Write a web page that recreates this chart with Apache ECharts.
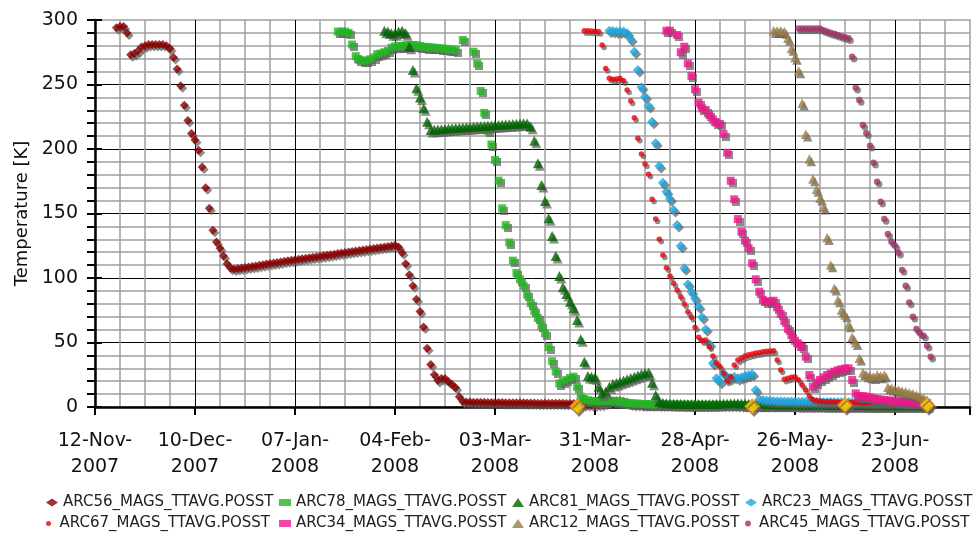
<!DOCTYPE html>
<html><head><meta charset="utf-8">
<script src="https://cdn.jsdelivr.net/npm/echarts@6/dist/echarts.min.js"></script>
<style>html,body{margin:0;padding:0;background:#fff}#c{width:973px;height:536px}</style>
</head><body><div id="c"></div>
<script>
// x values are days after 12-Nov-2007
const xTickLabels = ['12-Nov-\n2007','10-Dec-\n2007','07-Jan-\n2008','04-Feb-\n2008','03-Mar-\n2008','31-Mar-\n2008','28-Apr-\n2008','26-May-\n2008','23-Jun-\n2008'];
const seriesNames = ['ARC56_MAGS_TTAVG.POSST','ARC78_MAGS_TTAVG.POSST','ARC81_MAGS_TTAVG.POSST','ARC23_MAGS_TTAVG.POSST',
                     'ARC67_MAGS_TTAVG.POSST','ARC34_MAGS_TTAVG.POSST','ARC12_MAGS_TTAVG.POSST','ARC45_MAGS_TTAVG.POSST'];

const arc56Start = 6;
const arc56 = [294,295,295,290,273,274,276,279,280,281,281,281,281,281,280,278,271,262,249,234,222,212,207,199,186,170,154,137,128,123,117,111,107.5,
107,107.3,107.7,108.1,108.5,108.9,109.3,109.8,110.3,110.8,111.3,111.7,112.1,112.5,112.9,113.3,113.7,114.1,114.5,114.9,115.3,115.7,116.1,116.5,116.9,117.3,117.7,118.1,118.5,118.9,119.3,119.7,120.1,120.5,120.9,121.3,121.7,122.1,122.5,122.9,123.3,123.7,124.1,124.5,124.9,125.3,
124,119.5,111,102.5,94,83.5,74,62,45.5,33,25,20.5,22,22,19.5,17.5,15,8,4,
3.8,3.8,3.7,3.7,3.6,3.6,3.5,3.5,3.4,3.4,3.4,3.3,3.3,3.3,3.2,3.2,3.2,3.1,3.1,3.1,3.0,3.0,3.0,3.0,2.9,2.9,2.9,2.9,2.8,2.8,2.8,2.8,
2.2,2.0,1.9,1.8,1.8,1.9,2.2,3.0,4.0,4.6,4.8,4.8,4.5,3.6,2.6,
2.0,1.9,1.8,1.8,1.7,1.7,1.7,1.6,1.6,1.6,1.6,1.5,1.5,1.5,1.5,1.5,1.4,1.4,1.4,1.4,1.4,1.4,1.3,1.3,1.3,1.3,1.3,1.3,1.3,1.2,1.2,1.2,1.2,1.2,1.2,1.2,1.2,1.1,1.1,1.1,1.1,1.1,1.1,1.1,1.1,1.1,1.0,1.0,1.0,1.0,1.0,1.0,1.0,1.0,1.0,1.0,1.0,0.9,0.9,0.9,0.9,0.9,0.9,0.9,0.9,0.9,0.9,0.9,0.9,0.9,0.9,0.9,0.9,0.9,0.9,0.9,0.9,0.9,0.9,0.9,0.9,0.9,0.9];

const arc78Start = 68;
const arc78 = [291,291,291,290,281,272,269,268.5,268.5,269.5,271,273.5,274,275,276,278.5,279.5,279.8,279.8,280.5,280.6,280.6,280.5,279.8,279.3,279,278.8,278.5,278.3,278,277.7,277.4,277,276.7,
null,284.5,null,null,275.4,266.4,245,228,214,203.5,191.5,175.5,154,141,127.5,113.5,104,99,94,87,80.5,74.5,69,63,57,46.5,35.5,27.5,18.3,19.6,21,22.5,23.5,15.7,8,
6.0,5.2,4.8,4.6,4.5,4.5,4.6,4.7,4.8,4.6,4.2,3.6,3.2,3.0,
2.8,2.6,2.4,2.3,2.2,2.1,2.0,2.0,2.0,1.9,1.9,1.9,1.9,1.8,1.8,1.8,1.8,1.8,1.7,1.7,1.7,1.7,1.7,1.7,1.6,1.6,1.6,1.6,1.6,1.6,1.6,1.5,1.5,1.5,1.5,1.5,1.5,1.5,1.5,1.5,1.5,1.4,1.4,1.4,1.4,1.4,1.4,1.4,1.4,1.4,1.4,1.4,1.4,1.4,1.3,1.3,1.3,1.3,1.3,1.3,1.3,1.3,1.3,1.3,1.3,1.3,1.3,1.3,1.3,1.3,1.3,1.3,1.3,1.3,1.3,1.3,1.3,1.3,1.3,1.3,1.3,1.3,1.3];

const arc81Start = 81;
const arc81 = [291.7,291,289.7,289.7,291,291.7,289.7,279.3,261.2,247,240,231.5,221.2,214.7,
215,215.2,215.4,215.6,215.8,216,216.2,216.4,216.6,216.8,217,217.2,217.4,217.6,217.8,218,218.2,218.4,218.6,218.8,219,219.2,219.4,219.6,219.8,220,219.8,
217.3,206.4,188.9,172,159.7,146.3,132.6,117,101.6,92.8,87.6,81.6,76.5,67.4,52.5,35,24,23.5,23,15.7,10.6,12,15.7,17.8,18.7,19.6,20.5,21.5,22.5,23.5,24.5,25.6,26.2,26.6,18.8,9.3,4.1,
3.3,2.9,2.7,2.6,2.5,2.5,2.4,2.4,2.4,2.3,2.3,2.3,2.3,2.3,2.4,2.5,2.6,2.7,2.8,2.9,2.9,2.9,2.8,2.7,2.6,2.5,2.4,2.3,2.2,2.2,2.1,2.1,2.0,2.0,2.0,1.9,1.9,1.9,1.8,1.8,1.8,1.8,1.7,1.7,1.7,1.7,1.6,1.6,1.6,1.6,1.6,1.5,1.5,1.5,1.5,1.5,1.5,1.4,1.4,1.4,1.4,1.4,1.4,1.4,1.4,1.3,1.3,1.3,1.3,1.3,1.3,1.3,1.3,1.3,1.3];

const arc23Start = 144;
const arc23 = [291.7,291.5,291,291,291,289.7,285,275.4,261.2,247.8,240.5,233.3,221.2,204.4,186.8,173.9,166.9,161.2,152.7,141.1,124.8,107.5,95.1,89.4,84.2,77.8,69.5,60.2,48.8,33.9,22.2,19.6,26,23,22.5,23.5,22.2,23,24,24.8,25.6,13.2,
6.0,5.4,5.0,4.8,4.6,4.5,4.4,4.3,4.2,4.2,4.1,4.1,4.0,4.0,4.0,3.9,3.9,3.9,3.8,3.8,3.8,3.8,3.7,3.7,3.7,3.7,3.6,3.6,3.6,3.6,3.5,3.5,3.5,3.5,3.4,3.4,3.4,3.4,3.3,3.3,3.3,3.3,3.2,3.2,3.2,3.2,3.1,3.1];

const arc67Start = 137;
const arc67 = [291.7,291.7,291.5,291.3,291,280.6,262.5,254.8,254,254.3,254.8,252.9,245.7,237.2,224.3,208.3,196.1,188.4,180.4,161,145.7,130,117.8,108,101.6,95.9,90.7,85.5,79.8,73.9,69.5,61.8,54,51.4,51.9,46.7,39.5,34.3,31.2,26.1,20.2,23.5,32.6,36.4,38,39.5,40.5,41.1,41.8,42.3,42.8,43.2,43.5,43.6,36.4,28.7,21.5,22.2,23,23.5,20.9,17.1,13.2,8.5,5.9,
5.0,4.6,4.3,4.1,4.0,3.9,3.8,3.7,3.6,3.5,3.5,3.4,3.4,3.3,3.3,3.2,3.2,3.1,3.1,3.0,3.0,2.9,2.9,2.8,2.8,2.7,2.7,2.6,2.6,2.5,2.5,2.4];

const arc34Start = 160;
const arc34 = [291.7,291.7,null,288.4,275,279.3,266.4,256.6,246.3,235.9,231.5,230.2,226.4,223,220.4,219.4,211.6,197.1,175.4,161,145.7,135.9,128.9,123,111.4,99,89.4,83,81.8,81.6,82.4,77.3,72.1,66.7,60.5,55.8,51.4,48.6,46.7,39,24.8,15.7,18.8,21,23,24.8,26,27.4,28.5,29.2,29.8,30,20.9,10.6,
8,8.5,8,7.4,6.7,6.2,5.8,5.4,5.1,4.8,4.5,4.2,4,3.8,3.6,3.4,3.3,3.2,3.1,3];

const arc12Start = 190;
const arc12 = [291.7,291.7,291.7,291,285.8,278,271,260.5,235.4,211.4,192.2,176.7,168.7,161.8,154.8,131.2,110,92,83,75.2,71.3,63.6,54,49.8,37.7,26.6,24.8,24,23.5,24.8,24,24.8,15.3,14.5,13.7,13.2,12.5,11.9,11.1,10.2,9.3,8,6.7,5.4];

const arc45Start = 197;
const arc45 = [293.5,293.5,293.5,293.5,293.5,293.5,293.5,292,291,290.2,289.3,288.4,287.5,286.6,285.8,271.6,247.5,238,218.6,212.2,202.6,189.4,174.7,159.2,145.7,134.1,128.1,125,119.6,106.2,94,81.1,70,60.5,57.1,55.3,47.5,39];

const markerDays = [135, 184, 210, 233];
const markerVals = [0.5, 0.5, 1.5, 1.5];

const FONT = '"DejaVu Sans", Verdana, sans-serif';
function pts(start, vals) {
  const out = [];
  vals.forEach((v, i) => { if (v !== null) out.push([start + i, v]); });
  return out;
}
const shadow = { shadowColor: 'rgba(95,95,95,0.9)', shadowBlur: 0.5, shadowOffsetX: 2, shadowOffsetY: 2.5 };

const defs = [
  { data: pts(arc56Start, arc56), symbol: 'diamond', size: 9, lsize: 8, color: '#8b0000' },
  { data: pts(arc78Start, arc78), symbol: 'rect', size: 8, lsize: 7, color: '#22b822' },
  { data: pts(arc81Start, arc81), symbol: 'triangle', size: 10, lsize: 9, color: '#006400' },
  { data: pts(arc23Start, arc23), symbol: 'diamond', size: 10, lsize: 8, color: '#1ea7e1' },
  { data: pts(arc67Start, arc67), symbol: 'circle', size: 5.5, lsize: 5, color: '#e8000b' },
  { data: pts(arc34Start, arc34), symbol: 'rect', size: 8, lsize: 7, color: '#f0168c' },
  { data: pts(arc12Start, arc12), symbol: 'triangle', size: 9.5, lsize: 9, color: '#9a7a42' },
  { data: pts(arc45Start, arc45), symbol: 'circle', size: 6.5, lsize: 6, color: '#a0336b' }
];

const series = defs.map((d, i) => ({
  name: seriesNames[i], type: 'scatter', data: d.data, symbol: d.symbol, symbolSize: d.size,
  itemStyle: Object.assign({ color: d.color }, shadow), emphasis: { disabled: true }, animation: false
}));
series.push({
  name: 'markers', type: 'scatter', data: markerDays.map((x, i) => [x, markerVals[i]]),
  symbol: 'diamond', symbolSize: 14,
  itemStyle: Object.assign({ color: '#ffe100', borderColor: '#ff8c00', borderWidth: 1.5 }, shadow),
  emphasis: { disabled: true }, animation: false
});

const legendLeft = [46, 279, 512, 745];
const legendTop = [495, 516];
const legends = defs.map((d, i) => ({
  data: [seriesNames[i]], left: legendLeft[i % 4], top: legendTop[Math.floor(i / 4)],
  itemWidth: 12, itemHeight: d.lsize, padding: 0, itemGap: 0, selectedMode: false,
  textStyle: { fontFamily: FONT, fontSize: 15, color: '#222' },
  itemStyle: { shadowBlur: 0, shadowOffsetX: 0, shadowOffsetY: 0, shadowColor: 'rgba(0,0,0,0)' }
}));

const chart = echarts.init(document.getElementById('c'), null, { renderer: 'canvas' });
chart.setOption({
  animation: false,
  backgroundColor: '#fff',
  grid: { left: 95, right: 3, top: 20, bottom: 129, show: true, borderColor: '#a0a0a0', borderWidth: 1.5 },
  legend: legends,
  xAxis: {
    type: 'value', min: 0, max: 245, interval: 28,
    axisLine: { show: true, onZero: false, lineStyle: { color: '#000', width: 2.5 } },
    axisTick: { show: true, length: 8, lineStyle: { color: '#000', width: 2 } },
    minorTick: { show: false, splitNumber: 4 },
    axisLabel: {
      formatter: v => (v % 28 === 0 && v / 28 < xTickLabels.length) ? xTickLabels[v / 28] : '',
      fontFamily: FONT, fontSize: 19, color: '#111', lineHeight: 26, margin: 21
    },
    splitLine: { show: true, showMaxLine: false, lineStyle: { color: '#000', width: 1 } },
    minorSplitLine: { show: true, lineStyle: { color: '#a0a0a0', width: 1.5 } }
  },
  yAxis: [{
    type: 'value', min: 0, max: 300, interval: 50,
    name: 'Temperature [K]', nameLocation: 'middle', nameGap: 64, nameRotate: 90,
    nameTextStyle: { fontFamily: FONT, fontSize: 18, color: '#111' },
    axisLine: { show: true, lineStyle: { color: '#000', width: 2.5 } },
    axisTick: { show: true, length: 8, lineStyle: { color: '#000', width: 2 } },
    minorTick: { show: true, splitNumber: 5, length: 8, lineStyle: { color: '#000', width: 2 } },
    axisLabel: { fontFamily: FONT, fontSize: 19, color: '#111', margin: 17 },
    splitLine: { show: true, showMaxLine: false, lineStyle: { color: '#000', width: 1 } },
    minorSplitLine: { show: true, lineStyle: { color: '#a0a0a0', width: 1.5 } }
  }, {
    type: 'value', min: 0, max: 300, interval: 50, position: 'left',
    axisLine: { show: false },
    axisTick: { show: true, inside: true, length: 7, lineStyle: { color: '#000', width: 2 } },
    axisLabel: { show: false }, splitLine: { show: false }
  }],
  series: series
});
</script></body></html>
